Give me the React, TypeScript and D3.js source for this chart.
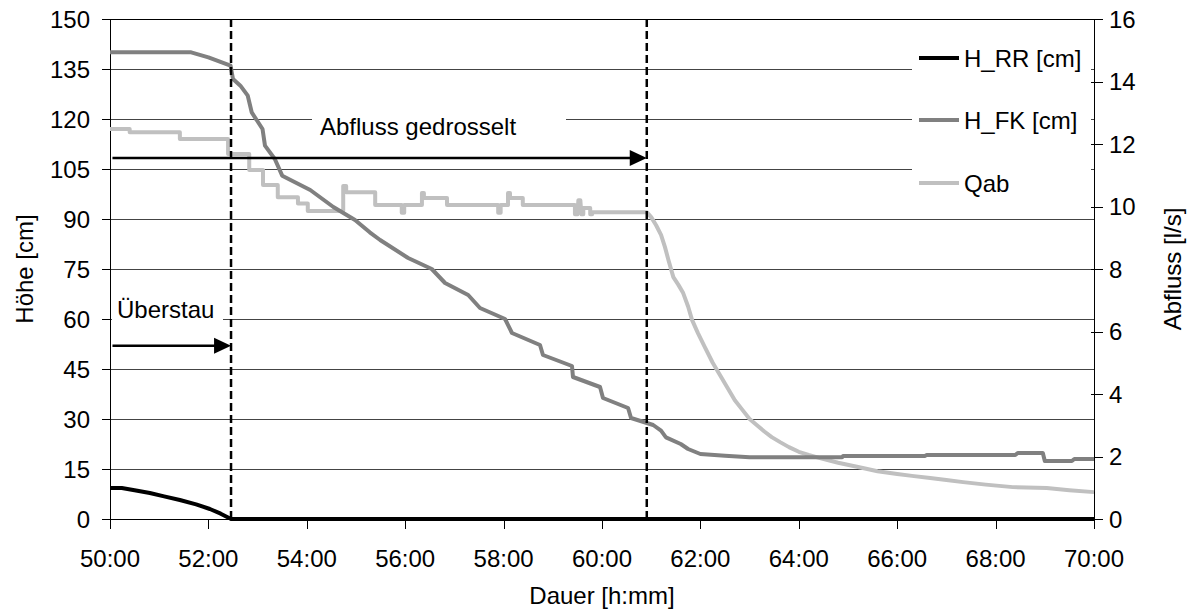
import React from 'react';
import * as d3 from 'd3';

const W = 1191;
const H = 612;

// minutes since start (50:00 == 50)
const xTicks = [50, 52, 54, 56, 58, 60, 62, 64, 66, 68, 70];
const xTickLabels = ['50:00', '52:00', '54:00', '56:00', '58:00', '60:00', '62:00', '64:00', '66:00', '68:00', '70:00'];
const leftTicks = [0, 15, 30, 45, 60, 75, 90, 105, 120, 135, 150];
const rightTicks = [0, 2, 4, 6, 8, 10, 12, 14, 16];

const seriesNames = ['H_RR [cm]', 'H_FK [cm]', 'Qab'];
const seriesColors = ['#000000', '#808080', '#c0c0c0'];

// H_RR [cm] (left axis)
const hRR: [number, number][] = [
  [50, 9.3], [50.24, 9.3], [50.5, 8.6], [50.81, 7.8], [51.1, 6.8], [51.42, 5.7],
  [51.75, 4.4], [52.03, 3.0], [52.25, 1.6], [52.46, 0], [70, 0],
];

// H_FK [cm] (left axis)
const hFK: [number, number][] = [
  [50, 140], [51.65, 140], [52.0, 138.5], [52.45, 136], [52.5, 132], [52.65, 130],
  [52.8, 127], [52.88, 122], [53.1, 117], [53.15, 112], [53.35, 108], [53.5, 103],
  [54.07, 98.7], [54.54, 93.6], [54.98, 89.7], [55.28, 86], [55.49, 83.7], [56.06, 78.3],
  [56.54, 75], [56.81, 70.8], [57.28, 67.2], [57.52, 63.3], [58.03, 60], [58.17, 55.8],
  [58.74, 52.2], [58.8, 49.2], [59.39, 45.9], [59.41, 42.6], [59.96, 39.6], [60.02, 36.3],
  [60.53, 33.3], [60.59, 30.3], [61.04, 28.2], [61.2, 26.5], [61.3, 24.5], [61.6, 22.5],
  [61.75, 21], [62.0, 19.5], [62.5, 19], [63.0, 18.5], [64.88, 18.5], [64.9, 18.9],
  [66.56, 18.9], [66.6, 19.2], [68.4, 19.2], [68.45, 19.8], [68.96, 19.8], [69.0, 17.4],
  [69.55, 17.4], [69.6, 18.0], [70, 18.0],
];

// Qab [l/s] (right axis)
const qab: [number, number][] = [
  [50, 12.48], [50.4, 12.48], [50.4, 12.38], [51.42, 12.38], [51.42, 12.16], [52.4, 12.16],
  [52.4, 11.68], [52.83, 11.68], [52.83, 11.17], [53.11, 11.17], [53.11, 10.69], [53.41, 10.69],
  [53.41, 10.3], [53.82, 10.3], [53.82, 10.1], [54.02, 10.1], [54.02, 9.86], [54.74, 9.86],
  [54.74, 10.66], [54.8, 10.66], [54.8, 10.46], [55.39, 10.46], [55.39, 10.05], [55.93, 10.05],
  [55.93, 9.8], [55.98, 9.8], [55.98, 10.05], [56.34, 10.05], [56.34, 10.43], [56.38, 10.43],
  [56.38, 10.27], [56.85, 10.27], [56.85, 10.05], [57.89, 10.05], [57.89, 9.8], [57.94, 9.8],
  [57.94, 10.05], [58.09, 10.05], [58.09, 10.43], [58.13, 10.43], [58.13, 10.27], [58.39, 10.27],
  [58.39, 10.05], [59.45, 10.05], [59.45, 9.75], [59.5, 9.75], [59.52, 10.2], [59.56, 10.2],
  [59.58, 9.75], [59.62, 9.75], [59.62, 9.95], [59.76, 9.95], [59.76, 9.75], [59.8, 9.75],
  [59.8, 9.82], [60.91, 9.82], [61.0, 9.66], [61.1, 9.4], [61.2, 9.09], [61.28, 8.7],
  [61.35, 8.29], [61.45, 7.74], [61.55, 7.5], [61.65, 7.23], [61.75, 6.8], [61.83, 6.37],
  [61.95, 5.95], [62.09, 5.5], [62.25, 5.0], [62.4, 4.6], [62.55, 4.2], [62.7, 3.8],
  [62.85, 3.5], [63.0, 3.2], [63.15, 3.0], [63.3, 2.8], [63.45, 2.62], [63.62, 2.46],
  [63.8, 2.3], [64.0, 2.15], [64.2, 2.05], [64.43, 1.95], [64.8, 1.8], [65.3, 1.63],
  [65.6, 1.53], [66.0, 1.44], [66.3, 1.38], [66.67, 1.31], [67.0, 1.25], [67.34, 1.18],
  [67.8, 1.1], [68.35, 1.02], [69.04, 0.99], [69.5, 0.92], [70, 0.86],
];

// event markers (minutes) and arrow heights (left axis units)
const markerTimes = [52.46, 60.91];
const ueberstauArrowY = 52;
const drosselArrowY = 108.3;

const font = '"Liberation Sans", Arial, sans-serif';

export default function App() {
  const x = d3.scaleLinear().domain([50, 70]).range([110, 1094]);
  const yL = d3.scaleLinear().domain([0, 150]).range([519, 19]);
  const yR = d3.scaleLinear().domain([0, 16]).range([519, 19]);

  const lineL = d3.line<[number, number]>().x(d => x(d[0])).y(d => yL(d[1]));
  const lineR = d3.line<[number, number]>().x(d => x(d[0])).y(d => yR(d[1]));

  const arrow = (x0: number, x1: number, yv: number) => {
    const y = yL(yv);
    const ax0 = x(x0), ax1 = x(x1);
    return (
      <g>
        <line x1={ax0} x2={ax1 - 14} y1={y} y2={y} stroke="#000" strokeWidth={2.5} />
        <path d={`M${ax1},${y} L${ax1 - 17},${y - 8} L${ax1 - 17},${y + 8} Z`} fill="#000" />
      </g>
    );
  };

  const [left, right] = x.range();
  const legendY = [58, 120, 183];

  return (
    <svg width={W} height={H} style={{ position: 'absolute', left: 0, top: 0, background: '#fff' }}
      fontFamily={font} fontSize={24}>
      <rect width={W} height={H} fill="#fff" />

      {/* gridlines */}
      {leftTicks.map(t => (
        <line key={t} x1={left} x2={right} y1={Math.round(yL(t)) + 0.5} y2={Math.round(yL(t)) + 0.5}
          stroke={t === 0 || t === 150 ? '#000' : '#444'} strokeWidth={1} />
      ))}

      {/* white label boxes covering gridlines */}
      <rect x={912} y={32} width={179} height={168} fill="#fff" />
      <rect x={312} y={104} width={254} height={40} fill="#fff" />
      <rect x={112} y={292} width={111} height={36} fill="#fff" />

      {/* axes */}
      <line x1={left + 0.5} x2={left + 0.5} y1={19} y2={519} stroke="#000" />
      <line x1={right + 0.5} x2={right + 0.5} y1={19} y2={519} stroke="#000" />
      <line x1={left} x2={right} y1={519.5} y2={519.5} stroke="#000" />

      {leftTicks.map(t => (
        <g key={t}>
          <line x1={left - 8} x2={left} y1={Math.round(yL(t)) + 0.5} y2={Math.round(yL(t)) + 0.5} stroke="#000" />
          <text x={left - 20} y={yL(t)} textAnchor="end" dominantBaseline="central">{t}</text>
        </g>
      ))}
      {rightTicks.map(t => (
        <g key={t}>
          <line x1={right - 3} x2={right + 9} y1={Math.round(yR(t)) + 0.5} y2={Math.round(yR(t)) + 0.5} stroke="#000" />
          <text x={right + 15} y={yR(t)} textAnchor="start" dominantBaseline="central">{t}</text>
        </g>
      ))}
      {xTicks.map((t, i) => (
        <g key={t}>
          <line x1={Math.round(x(t)) + 0.5} x2={Math.round(x(t)) + 0.5} y1={519} y2={529} stroke="#000" />
          <text x={x(t)} y={567} textAnchor="middle">{xTickLabels[i]}</text>
        </g>
      ))}

      {/* series */}
      <path d={lineR(qab) || ''} fill="none" stroke={seriesColors[2]} strokeWidth={4} strokeLinejoin="round" />
      <path d={lineL(hFK) || ''} fill="none" stroke={seriesColors[1]} strokeWidth={4} strokeLinejoin="round" />
      <path d={lineL(hRR) || ''} fill="none" stroke={seriesColors[0]} strokeWidth={4} strokeLinejoin="round" />

      {/* event markers */}
      {markerTimes.map(t => (
        <line key={t} x1={x(t)} x2={x(t)} y1={19} y2={519} stroke="#000" strokeWidth={2.5} strokeDasharray="8,4" />
      ))}
      {arrow(50.05, markerTimes[0], ueberstauArrowY)}
      {arrow(50.05, markerTimes[1], drosselArrowY)}
      <text x={117} y={318}>Überstau</text>
      <text x={320} y={135}>Abfluss gedrosselt</text>

      {/* legend */}
      {seriesNames.map((n, i) => (
        <g key={n}>
          <line x1={919} x2={959} y1={legendY[i]} y2={legendY[i]} stroke={seriesColors[i]} strokeWidth={4} />
          <text x={964} y={legendY[i]} dominantBaseline="central">{n}</text>
        </g>
      ))}

      {/* axis titles */}
      <text transform={`translate(24,${269}) rotate(-90)`} textAnchor="middle" dominantBaseline="central">Höhe [cm]</text>
      <text transform={`translate(1172,${269}) rotate(-90)`} textAnchor="middle" dominantBaseline="central">Abfluss [l/s]</text>
      <text x={(left + right) / 2} y={604} textAnchor="middle">Dauer [h:mm]</text>
    </svg>
  );
}
